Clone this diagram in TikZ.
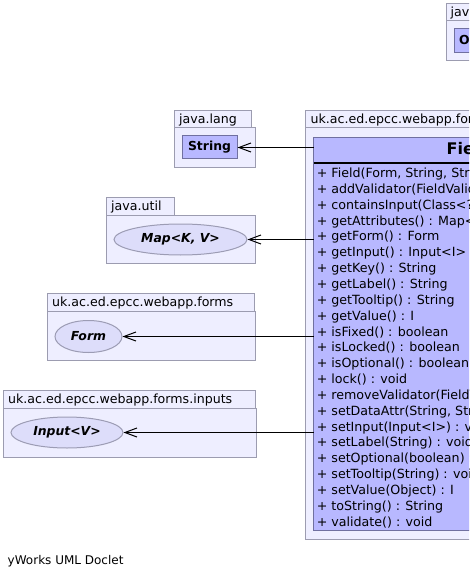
\documentclass[tikz,border=0pt]{standalone}
\usepackage{fontspec}
\setmainfont{DejaVu Sans}
\usetikzlibrary{arrows.meta,shapes.geometric}
\definecolor{pkgfill}{HTML}{EEEEFF}
\definecolor{pkgline}{HTML}{9C9CB0}
\definecolor{clsfill}{HTML}{B8B8FF}
\definecolor{clsline}{HTML}{7070A0}
\definecolor{ifill}{HTML}{DDDDFA}
\definecolor{iline}{HTML}{9C9CB4}
\tikzset{
  pkg/.style={draw=pkgline, fill=pkgfill, line width=1pt},
  pkglabel/.style={anchor=base west, inner sep=0pt, font=\fontsize{12.6}{14}\selectfont},
  clsbox/.style={draw=clsline, fill=clsfill, line width=1pt, inner sep=0pt,
     font=\bfseries\fontsize{12.4}{14}\selectfont},
  ifbox/.style={ellipse, draw=iline, fill=ifill, line width=1pt, inner sep=0pt,
     font=\bfseries\itshape\fontsize{12.4}{14}\selectfont},
  meth/.style={anchor=base west, inner sep=0pt, font=\fontsize{12.65}{14}\selectfont},
  dep/.style={draw=black, line width=1pt, -{Straight Barb[length=12pt,width=9pt,line width=1pt]}},
}
\begin{document}
\begin{tikzpicture}[x=1pt,y=-1pt]
\useasboundingbox (0,0) rectangle (469,577);
\clip (0,0) rectangle (469,577);
\fill[white] (0,0) rectangle (469,577);

% java.lang (Object) package, top right
\draw[pkg] (446.5,3.5) rectangle (520,20.5);
\draw[pkg] (446.5,20.5) rectangle (530,60.5);
\node[pkglabel] (objpkglabel) at (450.5,16.3) {java.lang};
\draw[clsline, fill=clsfill, line width=1pt] (454.5,28.5) rectangle (540,52.5);
\node[anchor=base west, inner sep=0pt, font=\bfseries\fontsize{12.4}{14}\selectfont] (object) at (459,44.8) {Object};

% Field package
\draw[pkg] (305.5,110.5) rectangle (560,127.5);
\draw[pkg] (305.5,127.5) rectangle (580,539.5);
\node[pkglabel] (fieldpkglabel) at (310.5,123.3) {uk.ac.ed.epcc.webapp.forms};

% Field class
\draw[clsline, fill=clsfill, line width=1pt] (313.5,137.5) rectangle (600,530.5);
\draw[black, line width=2pt] (313.5,163) -- (600,163);
\node[anchor=base west, inner sep=0pt, font=\bfseries\fontsize{16}{18}\selectfont] (fieldtitle) at (446.5,155) {Field};

\foreach \m [count=\i from 0] in {%
  {+ Field(Form, String, String)},
  {+ addValidator(FieldValidator<I>) : void},
  {+ containsInput(Class<?>) : boolean},
  {+ getAttributes() : Map<String, String>},
  {+ getForm() : Form},
  {+ getInput() : Input<I>},
  {+ getKey() : String},
  {+ getLabel() : String},
  {+ getTooltip() : String},
  {+ getValue() : I},
  {+ isFixed() : boolean},
  {+ isLocked() : boolean},
  {+ isOptional() : boolean},
  {+ lock() : void},
  {+ removeValidator(FieldValidator<I>) : void},
  {+ setDataAttr(String, String) : void},
  {+ setInput(Input<I>) : void},
  {+ setLabel(String) : void},
  {+ setOptional(boolean) : void},
  {+ setTooltip(String) : void},
  {+ setValue(Object) : I},
  {+ toString() : String},
  {+ validate() : void}} {
  \node[meth] (m\i) at (316.6,{177.5+15.85*\i}) {\m};
}

% java.lang (String)
\draw[pkg] (174.5,110.5) rectangle (251.5,127.5);
\draw[pkg] (174.5,127.5) rectangle (255.5,167.5);
\node[pkglabel] (stringpkglabel) at (179,123.3) {java.lang};
\node[clsbox, minimum width=55pt, minimum height=23pt] (string) at (209.5,147.5) {String};

% java.util
\draw[pkg] (106.5,197.5) rectangle (174.5,215.5);
\draw[pkg] (106.5,215.5) rectangle (255.5,263.5);
\node[pkglabel] (utilpkglabel) at (111,210.8) {java.util};
\node[ifbox, minimum width=133pt, minimum height=31pt] (map) at (180.5,239.5) {Map<K, V>};

% forms
\draw[pkg] (47.5,293.5) rectangle (254.5,311.5);
\draw[pkg] (47.5,311.5) rectangle (255.5,360.5);
\node[pkglabel] (formspkglabel) at (52,306.8) {uk.ac.ed.epcc.webapp.forms};
\node[ifbox, minimum width=67pt, minimum height=32pt] (form) at (88.5,336.5) {Form};

% forms.inputs
\draw[pkg] (3.5,390.5) rectangle (255.5,408.5);
\draw[pkg] (3.5,408.5) rectangle (256.5,457.5);
\node[pkglabel] (inputspkglabel) at (8,403.5) {uk.ac.ed.epcc.webapp.forms.inputs};
\node[ifbox, minimum width=112pt, minimum height=31pt] (input) at (67,432.5) {Input<V>};

% connectors
\coordinate (s1) at (313.5,147.5);
\coordinate (s2) at (313.5,239.5);
\coordinate (s3) at (313.5,336.5);
\coordinate (s4) at (313.5,432.5);
\draw[dep] (s1) -- (string);
\draw[dep] (s2) -- (map);
\draw[dep] (s3) -- (form);
\draw[dep] (s4) -- (input);

\node[anchor=base west, inner sep=0pt, font=\fontsize{12}{14}\selectfont] (footer) at (7.5,564.3) {yWorks UML Doclet};
\end{tikzpicture}
\end{document}
